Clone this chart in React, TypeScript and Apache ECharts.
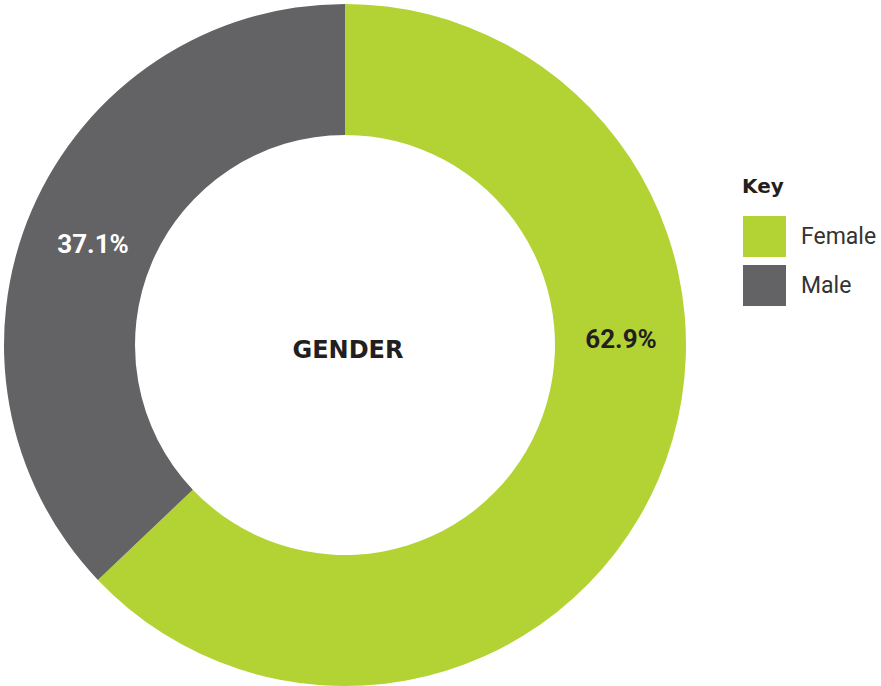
import React, { useEffect, useRef } from "react";
import * as echarts from "echarts";

const categories = ["Female", "Male"];
const values = [62.9, 37.1];
const colors = ["#b3d335", "#636365"];
const labelColors = ["#231f20", "#ffffff"];
const centerTitle = "GENDER";
const legendTitle = "Key";

export default function App() {
  const ref = useRef<HTMLDivElement>(null);
  useEffect(() => {
    document.body.style.margin = "0";
    const chart = echarts.init(ref.current!, null, { renderer: "svg" });
    const cx = 345, cy = 345;
    const labelPos = [
      [621, 339],
      [93, 244],
    ];
    chart.setOption({
      animation: false,
      title: {
        text: legendTitle,
        left: 742,
        top: 176,
        padding: 0,
        textStyle: { fontFamily: "DejaVu Sans", fontWeight: "bold", fontSize: 20, color: "#231f20" },
      },
      legend: {
        orient: "vertical",
        left: 743,
        top: 216,
        padding: 0,
        itemWidth: 43,
        itemHeight: 41,
        itemGap: 8,
        icon: "rect",
        data: categories,
        textStyle: { fontFamily: "Roboto", fontSize: 23, color: "#333333", padding: [0, 0, 0, 10] },
        selectedMode: false,
      },
      graphic: [
        {
          type: "text",
          z: 100,
          x: cx + 3,
          y: cy + 5,
          style: {
            text: centerTitle,
            fontFamily: "DejaVu Sans",
            fontWeight: "bold",
            fontSize: 24,
            fill: "#231f20",
            align: "center",
            verticalAlign: "middle",
          },
        },
        ...values.map((v, i) => ({
          type: "text",
          z: 100,
          x: labelPos[i][0],
          y: labelPos[i][1],
          style: {
            text: v.toFixed(1) + "%",
            fontFamily: "Roboto",
            fontWeight: "bold",
            fontSize: 26,
            fill: labelColors[i],
            align: "center",
            verticalAlign: "middle",
          },
        })),
      ],
      series: [
        {
          type: "pie",
          center: [cx, cy],
          radius: [210, 341],
          startAngle: 90,
          clockwise: true,
          silent: true,
          label: { show: false },
          labelLine: { show: false },
          itemStyle: { borderWidth: 0 },
          data: categories.map((c, i) => ({
            name: c,
            value: values[i],
            itemStyle: { color: colors[i] },
          })),
        },
      ],
    });
    return () => chart.dispose();
  }, []);
  return <div ref={ref} style={{ width: 881, height: 686 }} />;
}
